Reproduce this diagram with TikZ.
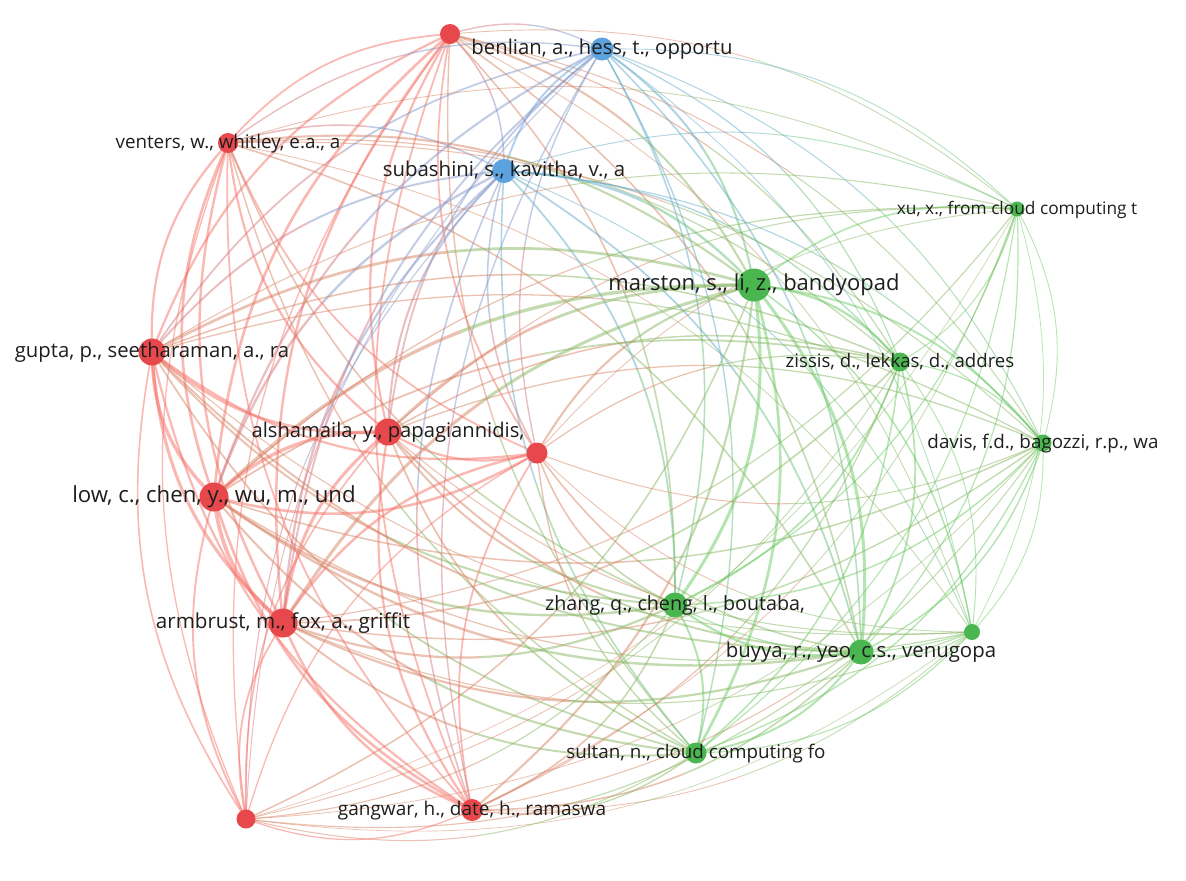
\documentclass[tikz,border=0pt]{standalone}
\usepackage{fontspec}
\setmainfont{Open Sans}
\usetikzlibrary{backgrounds,calc}

% cluster colours
\definecolor{clr}{RGB}{231,72,76}
\definecolor{clg}{RGB}{74,182,80}
\definecolor{clb}{RGB}{92,162,222}
% link colours, one per cluster
\definecolor{lkr}{RGB}{246,108,98}
\definecolor{lkg}{RGB}{100,200,90}
\definecolor{lkb}{RGB}{95,160,228}
\definecolor{lbltext}{RGB}{30,30,30}

\begin{document}
\begin{tikzpicture}[
  x=0.5pt, y=-0.5pt,
  item/.style={circle, inner sep=0pt, draw=none},
  itemlabel/.style={text=lbltext, inner sep=0pt, anchor=mid},
  link/.style={draw opacity=0.48, line cap=butt},
]
\useasboundingbox (0,0) rectangle (1186,880);

\def\itemlist{rtop,benlian,venters,suba,xu,marston,gupta,zissis,alsh,davis,rmid,low,zhang,armb,gsmall,buyya,sultan,gang,rbot}

% items: name/x/y/cluster/radius/weight/font size/label
\foreach \nm/\px/\py/\cl/\rad/\wt/\fs/\txt in {
  rtop/450/34/r/10/3/0/{},
  benlian/602/49/b/11.5/3/10.15/{benlian, a., hess, t., opportu},
  venters/228/143/r/10/3/9.4/{venters, w., whitley, e.a., a},
  suba/504/171/b/12/3.5/10.2/{subashini, s., kavitha, v., a},
  xu/1017/209/g/7.5/1.5/8.65/{xu, x., from cloud computing t},
  marston/754/285/g/16.5/5/11/{marston, s., li, z., bandyopad},
  gupta/152/352/r/13.5/4/10.15/{gupta, p., seetharaman, a., ra},
  zissis/900/362/g/9.5/2.5/9.3/{zissis, d., lekkas, d., addres},
  alsh/388/432/r/13.5/4/10.1/{alshamaila, y., papagiannidis,},
  davis/1043/443/g/8.5/2/9.4/{davis, f.d., bagozzi, r.p., wa},
  rmid/537/453/r/10.5/3/0/{},
  low/214/497/r/14.5/5/11.1/{low, c., chen, y., wu, m., und},
  zhang/675/605/g/12.5/3.5/9.85/{zhang, q., cheng, l., boutaba,},
  armb/283/623/r/14.5/4.5/10.3/{armbrust, m., fox, a., griffit},
  gsmall/972/632/g/8/1.5/0/{},
  buyya/861/652/g/12.5/3.5/10.2/{buyya, r., yeo, c.s., venugopa},
  sultan/696/753/g/10.5/3/9.4/{sultan, n., cloud computing fo},
  gang/472/810/r/11/3/9.5/{gangwar, h., date, h., ramaswa},
  rbot/246/819/r/9.5/2/0/{}
}{
  \node[item, fill=cl\cl, minimum size=\rad pt] (\nm) at (\px,\py) {};
  \ifdim\fs pt>0pt
    \node[itemlabel, font=\fontsize{\fs}{\fs}\selectfont] (\nm-lbl) at (\nm.center) {\txt};
  \fi
  \expandafter\xdef\csname px\nm\endcsname{\px}
  \expandafter\xdef\csname py\nm\endcsname{\py}
  \expandafter\xdef\csname cl\nm\endcsname{\cl}
  \expandafter\xdef\csname wt\nm\endcsname{\wt}
}

% links, bent away from the middle of the map; each half takes
% the colour of the item at its end
\begin{pgfonlayer}{background}
\fill[white] (0,0) rectangle (1186,880);
\foreach \src [count=\i] in \itemlist {
  \foreach \dst [count=\j] in \itemlist {
    \ifnum\j>\i
      \edef\xa{\csname px\src\endcsname}\edef\ya{\csname py\src\endcsname}
      \edef\xb{\csname px\dst\endcsname}\edef\yb{\csname py\dst\endcsname}
      \edef\ca{\csname cl\src\endcsname}\edef\cb{\csname cl\dst\endcsname}
      \pgfmathsetmacro\side{((\yb-\ya)/100)*(((\xa+\xb)/2-595)/100)-((\xb-\xa)/100)*(((\ya+\yb)/2-440)/100)}
      \pgfmathsetmacro\bnd{\side>0 ? 22 : -22}
      \ifx\ca\cb\def\fac{1}\else\def\fac{0.8}\fi
      \pgfmathsetmacro\lw{(0.2+0.075*\csname wt\src\endcsname*\csname wt\dst\endcsname)*\fac}
      \coordinate (c1) at ($(\src)!0.3915!\bnd:(\dst)$);
      \coordinate (c2) at ($(\dst)!0.3915!-\bnd:(\src)$);
      \coordinate (lm) at ($0.125*(\src)+0.375*(c1)+0.375*(c2)+0.125*(\dst)$);
      \draw[link, line width=\lw pt, draw=lk\ca!78!lk\cb] (\src.center)
        .. controls ($0.5*(\src)+0.5*(c1)$) and ($0.25*(\src)+0.5*(c1)+0.25*(c2)$) .. (lm);
      \draw[link, line width=\lw pt, draw=lk\cb!78!lk\ca] (lm)
        .. controls ($0.25*(c1)+0.5*(c2)+0.25*(\dst)$) and ($0.5*(c2)+0.5*(\dst)$) .. (\dst.center);
    \fi
  }
}
\end{pgfonlayer}
\end{tikzpicture}
\end{document}
